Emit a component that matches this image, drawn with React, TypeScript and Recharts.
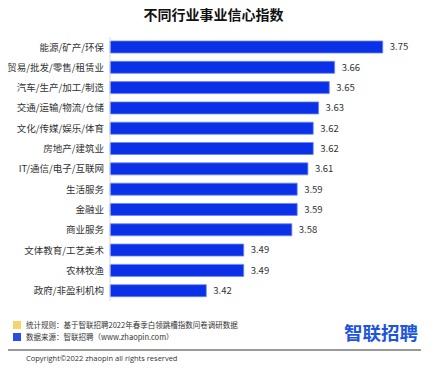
import React from "react";
import { BarChart, Bar, XAxis, YAxis, LabelList } from "recharts";

const industries = [
  "能源/矿产/环保",
  "贸易/批发/零售/租赁业",
  "汽车/生产/加工/制造",
  "交通/运输/物流/仓储",
  "文化/传媒/娱乐/体育",
  "房地产/建筑业",
  "IT/通信/电子/互联网",
  "生活服务",
  "金融业",
  "商业服务",
  "文体教育/工艺美术",
  "农林牧渔",
  "政府/非盈利机构",
];
const confidence = [3.75, 3.66, 3.65, 3.63, 3.62, 3.62, 3.61, 3.59, 3.59, 3.58, 3.49, 3.49, 3.42];

const data = industries.map((name, i) => ({ name, value: confidence[i] }));

const FONT = '"Noto Sans CJK SC", "Noto Sans", sans-serif';

export default function App() {
  return (
    <div
      style={{
        position: "fixed",
        left: 0,
        top: 0,
        width: 439,
        height: 375,
        background: "#fff",
        fontFamily: FONT,
        overflow: "hidden",
      }}
    >
      <div
        style={{
          position: "absolute",
          left: 0,
          width: 427,
          top: 4,
          textAlign: "center",
          fontSize: 14,
          fontWeight: 700,
          color: "#111",
          lineHeight: "20px",
        }}
      >
        不同行业事业信心指数
      </div>

      <div style={{ position: "absolute", left: 0, top: 0 }}>
        <BarChart
          layout="vertical"
          width={439}
          height={375}
          data={data}
          margin={{ top: 37, right: 29.5, bottom: 74, left: 0 }}
        >
          <XAxis type="number" domain={[3.24, 3.8]} hide />
          <YAxis
            type="category"
            dataKey="name"
            width={110}
            tickLine={false}
            tickSize={4}
            tickMargin={2}
            axisLine={{ stroke: "#d9d9d9" }}
            tick={{ fontSize: 9.5, fill: "#333", fontFamily: FONT }}
            interval={0}
          />
          <Bar
            dataKey="value"
            fill="#0a30e8"
            stroke="#6a86f2"
            strokeWidth={0.8}
            barSize={12}
            isAnimationActive={false}
          >
            <LabelList
              dataKey="value"
              position="right"
              offset={7}
              formatter={(v: number) => v.toFixed(2)}
              style={{ fontSize: 9.5, fill: "#333", fontFamily: FONT }}
            />
          </Bar>
        </BarChart>
      </div>

      {/* footer */}
      <div style={{ position: "absolute", left: 13, top: 321, width: 8, height: 8, background: "#f9d36a" }} />
      <div style={{ position: "absolute", left: 13, top: 333, width: 8, height: 8, background: "#2a4de8" }} />
      <div
        style={{
          position: "absolute",
          left: 26,
          top: 320,
          fontSize: 7.5,
          color: "#333",
          lineHeight: "10px",
          whiteSpace: "nowrap",
        }}
      >
        统计规则：基于智联招聘2022年春季白领跳槽指数问卷调研数据
      </div>
      <div
        style={{
          position: "absolute",
          left: 26,
          top: 332,
          fontSize: 7.5,
          color: "#333",
          lineHeight: "10px",
          whiteSpace: "nowrap",
        }}
      >
        数据来源：智联招聘（www.zhaopin.com）
      </div>
      <div
        style={{
          position: "absolute",
          left: 344,
          top: 320,
          fontSize: 18.5,
          fontWeight: 700,
          color: "#1d54e0",
          lineHeight: "24px",
          whiteSpace: "nowrap",
        }}
      >
        智联招聘
      </div>
      <div style={{ position: "absolute", left: 8, top: 349, width: 413, height: 1.5, background: "#9a9a9a" }} />
      <div
        style={{
          position: "absolute",
          left: 26,
          top: 353,
          fontSize: 7.5,
          color: "#333",
          lineHeight: "10px",
          whiteSpace: "nowrap",
          fontFamily: '"Open Sans", "Noto Sans", sans-serif',
        }}
      >
        Copyright©2022 zhaopin all rights reserved
      </div>
    </div>
  );
}
